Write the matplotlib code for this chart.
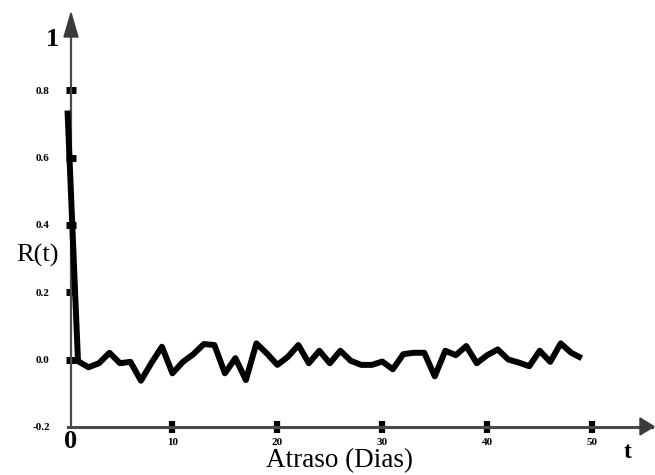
import matplotlib
matplotlib.use("Agg")
import matplotlib.pyplot as plt
from matplotlib.patches import Polygon

lags = list(range(50))
r_values = [0.74, -0.005, -0.023, -0.011, 0.020, -0.011, -0.007, -0.063, -0.010, 0.038,
            -0.041, -0.007, 0.016, 0.046, 0.043, -0.041, 0.004, -0.061, 0.048, 0.018,
            -0.016, 0.008, 0.043, -0.011, 0.026, -0.011, 0.026, -0.004, -0.016, -0.016,
            -0.006, -0.029, 0.016, 0.020, 0.020, -0.050, 0.026, 0.013, 0.040, -0.011,
            0.013, 0.030, 0.000, -0.009, -0.020, 0.026, -0.007, 0.048, 0.020, 0.004]

yticks = [-0.2, 0.0, 0.2, 0.4, 0.6, 0.8]
ytick_labels = ["-0.2", "0.0", "0.2", "0.4", "0.6", "0.8"]
xticks = [0, 10, 20, 30, 40, 50]
xtick_labels = ["", "10", "20", "30", "40", "50"]

serif = ["Liberation Serif", "DejaVu Serif"]
axis_col = "#4a4a4a"

fig = plt.figure(figsize=(6.55, 4.75), dpi=100)
ax = fig.add_axes([67.5 / 655, 1 - 426.8 / 475, (652 - 67.5) / 655, (426.8 - 15) / 475])
ax.set_xlim(0, 55.7)
ax.set_ylim(-0.2, 1.024)

for s in ["top", "right"]:
    ax.spines[s].set_visible(False)
ax.spines["left"].set_position(("data", 0.33))
ax.spines["left"].set_color(axis_col)
ax.spines["left"].set_linewidth(1.6)
ax.spines["bottom"].set_color(axis_col)
ax.spines["bottom"].set_linewidth(2.2)

ax.plot(lags, r_values, color="black", lw=4.3, solid_joinstyle="round",
        solid_capstyle="butt", clip_on=False, zorder=3)

ax.set_yticks(yticks)
ax.set_yticklabels(ytick_labels, family=serif, fontweight="bold", fontsize=8)
ax.set_xticks(xticks)
ax.set_xticklabels(xtick_labels, family=serif, fontweight="bold", fontsize=8)
ax.tick_params(axis="y", direction="inout", length=6.5, width=5, color="black", pad=12)
ax.tick_params(axis="x", direction="inout", length=8, width=4.5, color="black", pad=4)
ax.xaxis.get_major_ticks()[0].tick1line.set_visible(False)
ax.yaxis.get_major_ticks()[0].tick1line.set_visible(False)

# arrow heads
fig.patches.append(Polygon([[71 / 655, 1 - 13 / 475], [64 / 655, 1 - 37 / 475], [78 / 655, 1 - 37 / 475]],
                           closed=True, transform=fig.transFigure, facecolor="#3a3a3a",
                           edgecolor="#3a3a3a", figure=fig))
fig.patches.append(Polygon([[654 / 655, 1 - 426.5 / 475], [640 / 655, 1 - 418 / 475], [640 / 655, 1 - 435 / 475]],
                           closed=True, transform=fig.transFigure, facecolor="#3a3a3a",
                           edgecolor="#3a3a3a", figure=fig))

fig.text(53 / 655, 1 - 40 / 475, "1", family=serif, fontweight="bold", fontsize=19,
         ha="center", va="center")
fig.text(71 / 655, 1 - 441 / 475, "0", family=serif, fontweight="bold", fontsize=19,
         ha="center", va="center")
fig.text(628 / 655, 1 - 452 / 475, "t", family=serif, fontweight="bold", fontsize=17,
         ha="center", va="center")
fig.text(37 / 655, 1 - 255 / 475, "R(t)", family=serif, fontsize=19,
         ha="center", va="center")
fig.text(340 / 655, 1 - 461 / 475, "Atraso (Dias)", family=serif, fontsize=19.5,
         ha="center", va="center")

fig.savefig("out.png", dpi=100)
